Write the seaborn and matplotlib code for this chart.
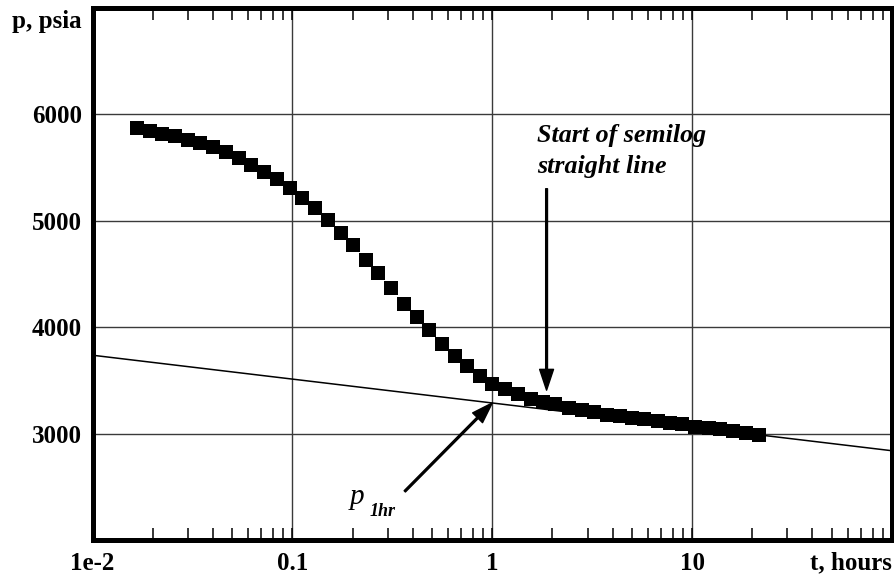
import numpy as np
import pandas as pd
import matplotlib
matplotlib.use("Agg")
import matplotlib.pyplot as plt
import seaborn as sns
from matplotlib.ticker import FixedLocator, NullFormatter

# Buildup test: shut-in time (hours) and bottom-hole pressure (psia)
t_hours = [0.0167, 0.0193, 0.0223, 0.0260, 0.0300, 0.0346, 0.0400, 0.0463, 0.0540, 0.0623,
           0.0721, 0.0838, 0.0969, 0.112, 0.130, 0.150, 0.175, 0.201, 0.233, 0.267,
           0.311, 0.361, 0.418, 0.483, 0.561, 0.650, 0.749, 0.867, 1.00, 1.16,
           1.35, 1.56, 1.80, 2.06, 2.43, 2.80, 3.23, 3.74, 4.36, 4.98,
           5.74, 6.73, 7.75, 8.87, 10.3, 12.1, 13.8, 16.0, 18.6, 21.7]
p_psia = [5865, 5840, 5816, 5791, 5760, 5725, 5688, 5645, 5589, 5523,
          5460, 5392, 5307, 5210, 5116, 5010, 4886, 4769, 4635, 4511,
          4373, 4223, 4098, 3970, 3839, 3729, 3635, 3542, 3470, 3417,
          3370, 3330, 3298, 3276, 3246, 3220, 3204, 3180, 3167, 3145,
          3136, 3120, 3098, 3089, 3067, 3054, 3042, 3023, 3005, 2992]

# Semilog straight line: p = p_1hr - m * log10(t)
p_1hr = 3290
slope_m = 224
line_t = [0.01, 100]

# Semilog line start marker
start_t = 1.87
start_p = 3410

x_ticks = [0.01, 0.1, 1, 10, 100]
x_tick_labels = ["1e-2", "0.1", "1", "10", "t, hours"]
y_ticks = [3000, 4000, 5000, 6000]
y_tick_labels = ["3000", "4000", "5000", "6000"]

sns.set_theme(style="white")
plt.rcParams["font.family"] = ["Liberation Serif", "DejaVu Serif"]

fig = plt.figure(figsize=(8.95, 5.78), dpi=100)
ax = fig.add_axes([0.1034, 0.0649, 0.8932, 0.9221])

line_df = pd.DataFrame({"t": line_t,
                        "p": [p_1hr - slope_m * np.log10(v) for v in line_t]})
data_df = pd.DataFrame({"t": t_hours, "p": p_psia})

sns.lineplot(data=line_df, x="t", y="p", color="black", lw=1.1, ax=ax, zorder=2)
sns.scatterplot(data=data_df, x="t", y="p", marker="s", s=92, color="black",
                edgecolor="black", linewidth=0, ax=ax, zorder=3)

ax.set_xscale("log")
ax.set_xlim(0.01, 100)
ax.set_ylim(2000, 7000)
ax.set_xlabel("")
ax.set_ylabel("")

ax.xaxis.set_major_locator(FixedLocator(x_ticks))
ax.set_xticklabels(x_tick_labels)
minor = [m * 10.0 ** d for d in range(-2, 2) for m in range(2, 10)]
ax.xaxis.set_minor_locator(FixedLocator(minor))
ax.xaxis.set_minor_formatter(NullFormatter())
ax.set_yticks(y_ticks)
ax.set_yticklabels(y_tick_labels)

ax.tick_params(axis="x", which="both", direction="in", top=True, bottom=True,
               length=8.5, width=1.1, color="black", pad=8,
               labelsize=18, labelcolor="black")
ax.tick_params(axis="y", which="both", length=0, pad=7.5,
               labelsize=18, labelcolor="black")
for lab in ax.get_xticklabels() + ax.get_yticklabels():
    lab.set_fontweight("bold")
ax.get_xticklabels()[-1].set_horizontalalignment("right")

ax.grid(True, which="major", color="#3a3a3a", lw=1.0)
for s in ax.spines.values():
    s.set_visible(True)
    s.set_color("black")
    s.set_linewidth(3.6)
    s.set_zorder(5)

fig.text(82 / 895, 1 - 28 / 578, "p, psia", ha="right", va="baseline",
         fontsize=18, fontweight="bold", color="black")

# Start of semilog straight line
ax.text(1.673, 5450, "Start of semilog\nstraight line", ha="left", va="baseline",
        fontsize=18.7, fontweight="bold", fontstyle="italic", color="black",
        linespacing=1.45)
ax.annotate("", xy=(start_t, start_p), xytext=(start_t, 5300),
            arrowprops=dict(width=1.3, headwidth=10, headlength=15,
                            facecolor="black", edgecolor="black", shrink=0.0))

# p at one hour
ax.annotate("", xy=(1.0, p_1hr), xytext=(0.365, 2461),
            arrowprops=dict(width=1.3, headwidth=10, headlength=15,
                            facecolor="black", edgecolor="black", shrink=0.0))
ax.text(0.1936, 2339, "p", ha="left", va="baseline", fontsize=21,
        fontstyle="italic", color="black")
ax.text(0.2438, 2227, "1hr", ha="left", va="baseline", fontsize=13,
        fontweight="bold", fontstyle="italic", color="black")

fig.savefig("out.png", dpi=100)
